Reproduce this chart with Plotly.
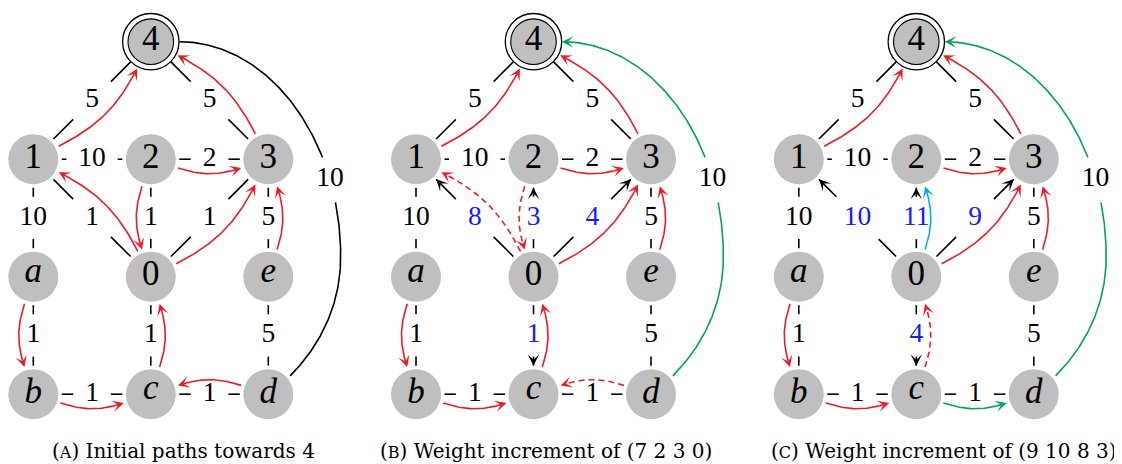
import numpy as np
import plotly.graph_objects as go

S = 117.5                    # pixels per grid step
PAGE = 8                     # default body margin of the html page
W, H = 1122 - PAGE, 464 - PAGE
X0_PX, Y0_PX = 33.3, 41.7    # page position of grid origin (node 1 column, node 4 row) in panel A
panel_shift_px = [0.0, 382.7, 765.5]

# ---- graph data ---------------------------------------------------------
node_names = ["4", "1", "2", "3", "a", "0", "e", "b", "c", "d"]
node_col = [1, 0, 1, 2, 0, 1, 2, 0, 1, 2]
node_row = [0, 1, 1, 1, 2, 2, 2, 3, 3, 3]
node_labels = ["4", "1", "2", "3", "<i>a</i>", "0", "<i>e</i>", "<i>b</i>", "<i>c</i>", "<i>d</i>"]

edge_u = ["4", "4", "1", "2", "1", "0", "0", "0", "3", "a", "0", "e", "b", "c"]
edge_v = ["1", "3", "2", "3", "a", "1", "2", "3", "e", "b", "c", "d", "c", "d"]
weights_a = [5, 5, 10, 2, 10, 1, 1, 1, 5, 1, 1, 5, 1, 1]
weights_b = [5, 5, 10, 2, 10, 8, 3, 4, 5, 1, 1, 5, 1, 1]
weights_c = [5, 5, 10, 2, 10, 10, 11, 9, 5, 1, 4, 5, 1, 1]
raised = [False, False, False, False, False, True, True, True, False, False, True, False, False, False]
arc_weight = 10              # long curved edge 4 - d

# coloured paths: (from, to, colour, dash)
paths_a = [("1", "4", "red", "solid"), ("3", "4", "red", "solid"), ("2", "3", "red", "solid"),
           ("0", "1", "red", "solid"), ("2", "0", "red", "solid"), ("0", "3", "red", "solid"),
           ("e", "3", "red", "solid"), ("a", "b", "red", "solid"), ("c", "0", "red", "solid"),
           ("b", "c", "red", "solid"), ("d", "c", "red", "solid")]
paths_b = [("1", "4", "red", "solid"), ("3", "4", "red", "solid"), ("2", "3", "red", "solid"),
           ("0", "1", "red", "dash"), ("2", "0", "red", "dash"), ("0", "3", "red", "solid"),
           ("e", "3", "red", "solid"), ("a", "b", "red", "solid"), ("c", "0", "red", "solid"),
           ("b", "c", "red", "solid"), ("d", "c", "red", "dash")]
paths_c = [("1", "4", "red", "solid"), ("3", "4", "red", "solid"), ("2", "3", "red", "solid"),
           ("0", "2", "cyan", "solid"), ("0", "3", "red", "solid"),
           ("e", "3", "red", "solid"), ("a", "b", "red", "solid"), ("c", "0", "red", "dash"),
           ("b", "c", "red", "solid"), ("c", "d", "green", "solid")]

captions = ["(<span style='font-size:16px'>A</span>) Initial paths towards 4",
            "(<span style='font-size:16px'>B</span>) Weight increment of (7 2 3 0)",
            "(<span style='font-size:16px'>C</span>) Weight increment of (9 10 8 3)"]
caption_x_px = [183, 546, 944]

panels = [dict(weights=weights_a, directed=False, paths=paths_a, arc="black"),
          dict(weights=weights_b, directed=True, paths=paths_b, arc="green"),
          dict(weights=weights_c, directed=True, paths=paths_c, arc="green")]

COLORS = {"red": "#ED1C24", "green": "#00A651", "cyan": "#00AEEF", "black": "black"}
BLUE = "#1A1AFF"
GRAY = "#BFBFBF"
FONT = "Liberation Serif"
CAPTION_FONT = "DejaVu Serif"

R_LINE = 28.5 / S
R_TIP = 28.5 / S
R_TIP4 = 30.0 / S
BEND = np.radians(18)
HALF_H = 21 / S


def pos(name, sh):
    i = node_names.index(name)
    return np.array([node_col[i] + sh, node_row[i]], float)


def rot(v, ang):
    c, s = np.cos(ang), np.sin(ang)
    return np.array([c * v[0] - s * v[1], s * v[0] + c * v[1]])


def bezier(p0, p1, p2, p3, n=80):
    t = np.linspace(0, 1, n)[:, None]
    return (1 - t) ** 3 * p0 + 3 * (1 - t) ** 2 * t * p1 + 3 * (1 - t) * t ** 2 * p2 + t ** 3 * p3


def half_w(w):
    return (len(str(w)) * 13.5 / 2 + 12) / S


def clip(pts, centre, hw, hh):
    xs, ys = [], []
    for p in pts:
        if abs(p[0] - centre[0]) < hw and abs(p[1] - centre[1]) < hh:
            if xs and xs[-1] is not None:
                xs.append(None)
                ys.append(None)
        else:
            xs.append(p[0])
            ys.append(p[1])
    return xs, ys


def head(pts, color):
    # arrow head at the last point of pts; returns trimmed body and annotation
    tip = pts[-1]
    dist = np.linalg.norm(pts - tip, axis=1) * S
    back = pts[np.where(dist >= 6)[0][-1]]
    ann = dict(x=tip[0], y=tip[1], ax=back[0], ay=back[1], xref="x", yref="y",
               axref="x", ayref="y", text="", showarrow=True, arrowhead=3,
               arrowsize=1.2, arrowwidth=1.6, arrowcolor=color)
    return pts[dist >= 3], ann


def bend_curve(s, t, sh):
    ps, pt = pos(s, sh), pos(t, sh)
    d = (pt - ps) / np.linalg.norm(pt - ps)
    u_out, u_in = rot(d, BEND), rot(-d, -BEND)
    a = ps + (R_TIP4 if s == "4" else R_TIP) * u_out
    b = pt + (R_TIP4 if t == "4" else R_TIP) * u_in
    k = 0.3915 * np.linalg.norm(b - a)
    return bezier(a, a + k * u_out, b + k * u_in, b)


def arc_curve(sh):
    p4, pd = pos("4", sh), pos("d", sh)
    start = p4 + np.array([R_LINE, 0.0])
    m = pd + np.array([72.4, -137.3]) / S          # right-most point of the arc
    ang = np.radians(40)
    end = pd + R_LINE * np.array([np.cos(ang), -np.sin(ang)])
    c1 = start + np.array([(m[0] - start[0]) * 0.5523, 0.0])
    c2 = m - np.array([0.0, (m[1] - start[1]) * 0.5523])
    seg1 = bezier(start, c1, c2, m, 140)
    seg2 = bezier(m, m + np.array([0, 50 / S]), end + 40 / S * np.array([0.707, -0.707]), end, 80)
    t = 0.77
    lab = (1 - t) ** 3 * start + 3 * (1 - t) ** 2 * t * c1 + 3 * (1 - t) * t ** 2 * c2 + t ** 3 * m
    return np.vstack([seg1, seg2[1:]]), lab


fig = go.Figure()
annotations = []
curve_traces = []

for pi, panel in enumerate(panels):
    sh = panel_shift_px[pi] / S
    weights = panel["weights"]

    # black weighted edges, broken around their labels
    bx, by = [], []
    lx, ly, lt, lc = [], [], [], []
    for k, (u, v) in enumerate(zip(edge_u, edge_v)):
        pu, pv = pos(u, sh), pos(v, sh)
        d = (pv - pu) / np.linalg.norm(pv - pu)
        directed = panel["directed"] and raised[k]
        a = pu + R_LINE * d
        b = pv - (R_TIP if directed else R_LINE) * d
        pts = a + np.linspace(0, 1, 240)[:, None] * (b - a)
        mid = (pu + pv) / 2
        xs, ys = clip(pts, mid, half_w(weights[k]), HALF_H)
        bx += xs + [None]
        by += ys + [None]
        if directed:
            annotations.append(head(pts, "black")[1])
        lx.append(mid[0])
        ly.append(mid[1])
        lt.append(str(weights[k]))
        lc.append(BLUE if directed else "black")

    arc, lab = arc_curve(sh)
    lx.append(lab[0])
    ly.append(lab[1])
    lt.append(str(arc_weight))
    lc.append("black")
    if panel["arc"] == "black":
        xs, ys = clip(arc, lab, half_w(arc_weight), HALF_H)
        bx += xs + [None]
        by += ys + [None]
    else:
        body, ann = head(arc[::-1], COLORS["green"])
        annotations.append(ann)
        xs, ys = clip(body, lab, half_w(arc_weight), HALF_H)
        curve_traces.append(go.Scatter(x=xs, y=ys, mode="lines",
                                       line=dict(color=COLORS["green"], width=1.6),
                                       hoverinfo="skip"))

    fig.add_trace(go.Scatter(x=bx, y=by, mode="lines", line=dict(color="black", width=1.6),
                             hoverinfo="skip"))
    fig.add_trace(go.Scatter(x=lx, y=ly, mode="text", text=lt, textposition="middle center",
                             textfont=dict(family=FONT, size=27.5, color=lc), hoverinfo="skip"))

    # nodes
    xs = [c + sh for c in node_col]
    ys = [r for r in node_row]
    fig.add_trace(go.Scatter(x=[xs[0]], y=[ys[0]], mode="markers",
                             marker=dict(size=56.4, color="white", line=dict(color="black", width=1.3)),
                             hoverinfo="skip"))
    fig.add_trace(go.Scatter(x=xs[1:], y=ys[1:], mode="markers",
                             marker=dict(size=50, color=GRAY, line=dict(width=0)), hoverinfo="skip"))
    fig.add_trace(go.Scatter(x=[xs[0]], y=[ys[0]], mode="markers",
                             marker=dict(size=45.6, color=GRAY, line=dict(color="black", width=1.1)),
                             hoverinfo="skip"))
    ty = [y - (3.5 / S if n in ("a", "c", "e") else 0) for y, n in zip(ys, node_names)]
    fig.add_trace(go.Scatter(x=xs, y=ty, mode="text", text=node_labels, textposition="middle center",
                             textfont=dict(family=FONT, size=35, color="black"), hoverinfo="skip"))

    # coloured paths
    for s, t, col, dash in panel["paths"]:
        body, ann = head(bend_curve(s, t, sh), COLORS[col])
        annotations.append(ann)
        curve_traces.append(go.Scatter(x=body[:, 0], y=body[:, 1], mode="lines",
                                       line=dict(color=COLORS[col], width=1.6,
                                                 dash="6px,4px" if dash == "dash" else "solid"),
                                       hoverinfo="skip"))

for tr in curve_traces:
    fig.add_trace(tr)

for cap, cx in zip(captions, caption_x_px):
    annotations.append(dict(x=(cx - PAGE) / W, y=1 - (451 - PAGE) / H, xref="paper", yref="paper",
                            text=cap, showarrow=False, xanchor="center", yanchor="middle",
                            font=dict(family=CAPTION_FONT, size=20, color="black")))

fig.update_layout(
    width=W, height=H,
    margin=dict(l=0, r=0, t=0, b=0),
    paper_bgcolor="white", plot_bgcolor="white",
    showlegend=False,
    xaxis=dict(range=[-(X0_PX - PAGE) / S, (W - (X0_PX - PAGE)) / S], visible=False, fixedrange=True),
    yaxis=dict(range=[(H - (Y0_PX - PAGE)) / S, -(Y0_PX - PAGE) / S], visible=False, fixedrange=True),
    annotations=annotations,
)

fig.write_html("out.html")
